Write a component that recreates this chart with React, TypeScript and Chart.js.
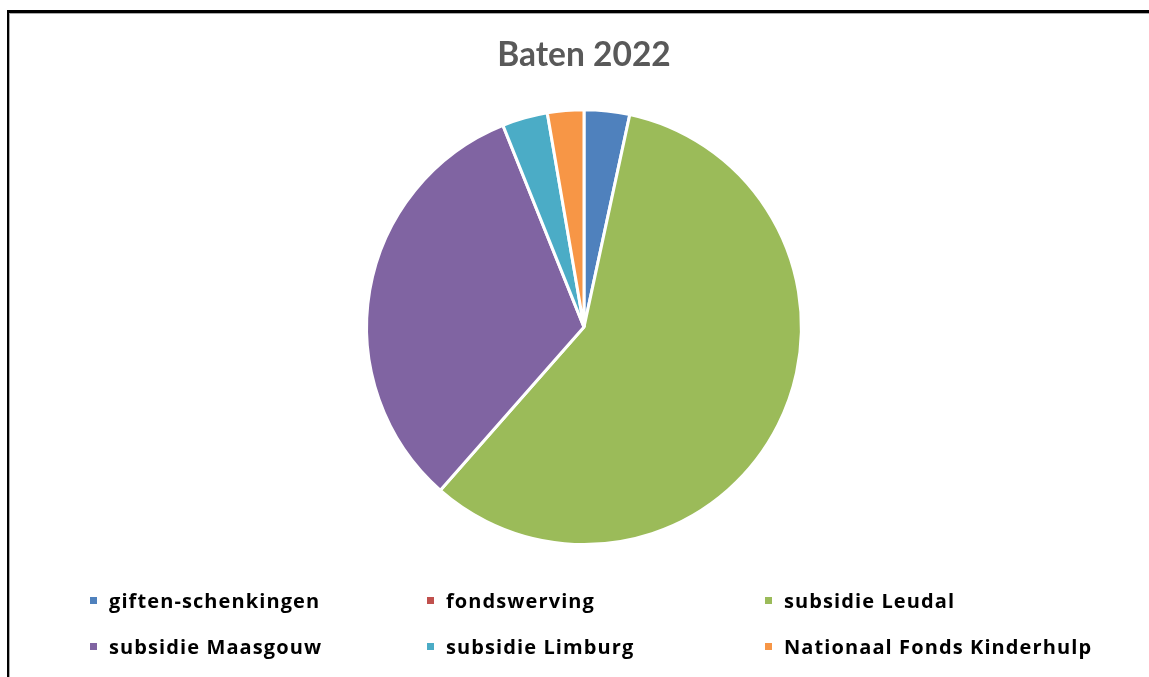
import React, { useEffect, useRef } from "react";
import { Chart, registerables } from "chart.js";

Chart.register(...registerables);

const title = "Baten 2022";
const categories = [
  "giften-schenkingen",
  "fondswerving",
  "subsidie Leudal",
  "subsidie Maasgouw",
  "subsidie Limburg",
  "Nationaal Fonds Kinderhulp",
];
const values = [1250, 0, 21500, 12000, 1250, 1000];
const colors = ["#4F81BD", "#C0504D", "#9BBB59", "#8064A2", "#4BACC6", "#F79646"];

const FONT = "Lato, 'Open Sans', sans-serif";
const LEGEND_FONT = "'Open Sans', Lato, sans-serif";

export default function App() {
  const ref = useRef<HTMLCanvasElement | null>(null);

  useEffect(() => {
    if (!ref.current) return;
    const chart = new Chart(ref.current, {
      type: "pie",
      data: {
        labels: categories,
        datasets: [
          {
            data: values,
            backgroundColor: colors,
            borderColor: "#ffffff",
            borderWidth: 3,
          },
        ],
      },
      options: {
        responsive: false,
        animation: false,
        devicePixelRatio: 1,
        layout: { padding: { top: 30, bottom: 131, left: 19, right: 0 } },
        plugins: {
          legend: { display: false },
          tooltip: { enabled: false },
          title: {
            display: true,
            text: title,
            color: "#595959",
            font: { family: FONT, size: 33.5, weight: "bold", lineHeight: 1.2 },
            padding: { top: 5, bottom: 33 },
          },
        },
      },
    });
    return () => chart.destroy();
  }, []);

  const colX = [90, 427, 765];
  const rowY = [588, 634];

  return (
    <div
      style={{
        position: "fixed",
        left: 0,
        top: 0,
        width: 1149,
        height: 677,
        overflow: "hidden",
        background: "#fff",
      }}
    >
      <canvas
        ref={ref}
        width={1149}
        height={677}
        style={{ position: "absolute", left: 0, top: 0, width: 1149, height: 677 }}
      />
      <div style={{ position: "absolute", left: 7, top: 10, width: 1142, height: 2.5, background: "#000" }} />
      <div style={{ position: "absolute", left: 9, top: 12.5, width: 1140, height: 1, background: "#aaa" }} />
      <div style={{ position: "absolute", left: 7, top: 10, width: 2, height: 667, background: "#000" }} />
      <div style={{ position: "absolute", left: 9, top: 12.5, width: 1, height: 665, background: "#aaa" }} />
      {categories.map((c, i) => {
        const col = i % 3;
        const row = Math.floor(i / 3);
        return (
          <div
            key={c}
            style={{
              position: "absolute",
              left: colX[col],
              top: rowY[row],
              height: 24,
              display: "flex",
              alignItems: "center",
              fontFamily: LEGEND_FONT,
              fontWeight: 700,
              fontSize: 20,
              letterSpacing: "1.1px",
              color: "#000",
              whiteSpace: "nowrap",
            }}
          >
            <span
              style={{
                display: "inline-block",
                width: 7,
                height: 7,
                background: colors[i],
                marginRight: 12,
              }}
            />
            {c}
          </div>
        );
      })}
    </div>
  );
}
